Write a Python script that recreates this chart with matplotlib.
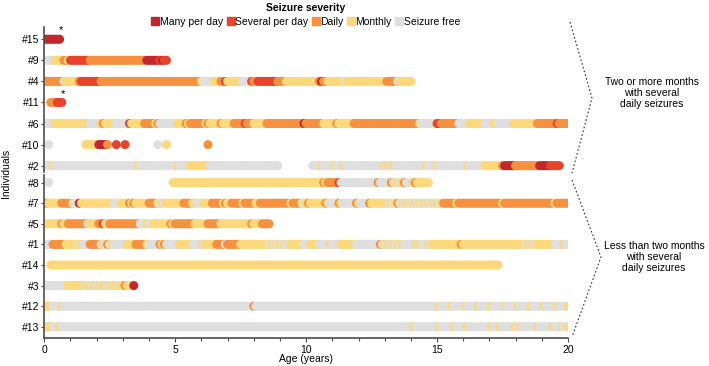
import matplotlib
matplotlib.use("Agg")
import matplotlib.pyplot as plt
from matplotlib.lines import Line2D
import numpy as np

plt.rcParams["font.family"] = ["Liberation Sans", "DejaVu Sans"]
plt.rcParams["font.size"] = 7.5

severity_codes = ["M", "S", "D", "O", "F"]
severity_labels = ["Many per day", "Several per day", "Daily", "Monthly", "Seizure free"]
severity_colors = ["#c1272d", "#e8442c", "#f6923f", "#fdd97c", "#dfdfdf"]

top_group = ["#15", "#9", "#4", "#11", "#6", "#10", "#2"]
bottom_group = ["#8", "#7", "#5", "#1", "#14", "#3", "#12", "#13"]
starred = ["#15", "#11"]

# monthly seizure severity from month 0, run-length encoded; "." = no record
p15 = [("M", 8)]
p9 = [("F", 5), ("O", 4), ("D", 2), ("O", 1), ("S", 9), ("D", 26), ("M", 6), ("S", 1),
      ("M", 1), ("S", 2)]
p4 = [("D", 9), ("F", 1), ("O", 6), ("D", 1), ("S", 9), ("D", 46), ("O", 1), ("F", 5),
      ("O", 3), ("D", 2), ("S", 1), ("O", 7), ("F", 4), ("S", 1), ("D", 2), ("S", 9),
      ("D", 4), ("O", 15), ("D", 1), ("M", 1), ("D", 2), ("O", 8), ("F", 1), ("O", 18),
      ("D", 5), ("F", 1), ("O", 6)]
p11 = [(".", 3), ("D", 3), ("S", 3)]
p6 = [("F", 5), ("O", 16), ("F", 5), ("O", 1), ("D", 1), ("O", 5), ("F", 6), ("S", 1),
      ("O", 6), ("D", 5), ("O", 1), ("D", 1), ("F", 8), ("O", 4), ("D", 1), ("O", 1),
      ("D", 7), ("O", 1), ("D", 1), ("O", 5), ("D", 1), ("O", 5), ("D", 5), ("S", 1),
      ("D", 3), ("O", 6), ("D", 17), ("M", 1), ("D", 8), ("O", 6), ("D", 1), ("O", 7),
      ("D", 30), ("O", 1), ("F", 7), ("S", 2), ("D", 8), ("F", 5), ("O", 7), ("F", 4),
      ("O", 2), ("F", 7), ("O", 11), ("D", 9), ("S", 1), ("D", 5)]
p10 = [(".", 2), ("F", 1), (".", 16), ("O", 6), ("M", 4), ("D", 1), (".", 3), ("S", 1),
       (".", 3), ("S", 1), (".", 14), ("F", 1), (".", 3), ("O", 1), (".", 18), ("D", 1)]
p2 = [("F", 4), ("O", 1), ("F", 38), ("O", 1), ("F", 17), ("O", 1), ("F", 5), ("O", 9),
      ("F", 32), (".", 15), ("F", 4), ("O", 1), ("F", 5), ("O", 1), ("F", 3), ("O", 1),
      ("F", 18), ("O", 1), ("F", 1), ("O", 1), ("F", 1), ("O", 1), ("F", 14), ("O", 1),
      ("F", 4), ("O", 1), ("F", 13), ("O", 1), ("F", 7), ("O", 8), ("D", 1), ("M", 5),
      ("D", 11), ("M", 5), ("S", 5)]
p8 = [(".", 2), ("F", 1), (".", 56), ("O", 69), ("D", 1), ("O", 1), ("D", 5), ("S", 1),
      ("F", 17), ("D", 1), ("F", 5), ("D", 1), ("O", 1), ("F", 1), ("O", 1), ("F", 1),
      ("O", 1), ("D", 1), ("F", 3), ("O", 1), ("D", 1), ("O", 6)]
p7 = [("D", 2), ("O", 6), ("D", 5), ("O", 1), ("F", 2), ("M", 1), ("O", 15), ("F", 3),
      ("O", 4), ("D", 1), ("O", 1), ("D", 1), ("O", 6), ("D", 4), ("O", 1), ("F", 1),
      ("O", 1), ("F", 1), ("O", 8), ("D", 4), ("O", 2), ("F", 3), ("O", 4), ("D", 5),
      ("O", 1), ("D", 1), ("O", 2), ("D", 5), ("O", 1), ("D", 5), ("O", 2), ("D", 14),
      ("O", 1), ("D", 4), ("O", 1), ("F", 1), ("O", 1), ("D", 1), ("O", 7), ("D", 1),
      ("O", 1), ("F", 4), ("D", 1), ("O", 1), ("F", 6), ("D", 1), ("O", 1), ("F", 4),
      ("D", 1), ("O", 7), ("O", 1), ("F", 1), ("O", 1), ("F", 1), ("O", 1), ("D", 1),
      ("F", 1), ("O", 1), ("F", 1), ("O", 1), ("F", 1), ("O", 1), ("F", 1), ("O", 1),
      ("F", 1), ("O", 1), ("F", 1), ("O", 1), ("F", 1), ("O", 1), ("F", 1), ("O", 1),
      ("F", 1), ("O", 1), ("F", 1), ("O", 1), ("D", 6), ("O", 1), ("D", 20), ("O", 1),
      ("D", 23), ("O", 1), ("D", 6)]
p5 = [("O", 8), ("D", 1), ("O", 2), ("D", 8), ("D", 1), ("F", 1), ("O", 4), ("D", 2),
      ("S", 1), ("O", 2), ("D", 14), ("F", 3), ("O", 1), ("F", 2), ("O", 8), ("D", 1),
      ("O", 1), ("D", 9), ("O", 6), ("D", 6), ("O", 14), ("D", 1), ("O", 4), ("D", 4)]
p1 = [("F", 4), ("D", 6), ("O", 6), ("F", 1), ("O", 1), ("F", 3), ("D", 5), ("F", 1),
      ("O", 1), ("F", 1), ("D", 1), ("F", 1), ("O", 1), ("F", 6), ("O", 4), ("D", 5),
      ("O", 1), ("F", 5), ("D", 1), ("O", 1), ("D", 1), ("F", 6), ("O", 6), ("F", 4),
      ("O", 1), ("F", 1), ("O", 5), ("D", 4), ("F", 1), ("D", 6), ("O", 13), ("F", 1),
      ("O", 1), ("F", 1), ("O", 1), ("F", 1), ("O", 1), ("F", 1), ("O", 1), ("F", 2),
      ("O", 6), ("F", 3), ("O", 4), ("F", 5), ("O", 1), ("F", 4), ("O", 7), ("F", 11),
      ("D", 1), ("F", 1), ("O", 1), ("F", 1), ("O", 1), ("F", 1), ("O", 1), ("F", 1),
      ("O", 1), ("F", 1), ("O", 1), ("F", 5), ("O", 1), ("F", 1), ("O", 1), ("F", 3),
      ("O", 1), ("F", 1), ("O", 13), ("D", 1), ("O", 29), ("F", 1), ("O", 1), ("F", 1),
      ("O", 1), ("F", 1), ("O", 8), ("F", 4), ("O", 1), ("F", 2)]
p14 = [(".", 3), ("O", 206)]
p3 = [("F", 11), ("O", 8), ("F", 1), ("O", 2), ("F", 1), ("O", 1), ("F", 1), ("O", 1),
      ("F", 1), ("O", 2), ("F", 1), ("O", 1), ("F", 1), ("O", 2), ("F", 1), ("O", 2),
      ("D", 1), ("O", 3), ("M", 1)]
p12 = [("O", 4), ("F", 4), ("O", 1), ("F", 87), ("D", 1), ("F", 84), ("O", 1), ("F", 5),
       ("O", 1), ("F", 5), ("O", 1), ("F", 5), ("O", 1), ("F", 5), ("O", 1), ("F", 5),
       ("O", 1), ("F", 5), ("O", 1), ("F", 5), ("O", 1), ("F", 5), ("O", 1), ("F", 5),
       ("O", 1), ("F", 4), ("O", 1)]
p13 = [("O", 4), ("F", 3), ("O", 1), ("F", 161), ("O", 1), ("F", 11), ("O", 1), ("F", 6),
       ("O", 1), ("F", 5), ("O", 1), ("F", 10), ("O", 1), ("F", 3), ("O", 1), ("F", 6),
       ("O", 1), ("F", 1), ("O", 1), ("F", 7), ("O", 1), ("F", 6), ("O", 1), ("F", 3),
       ("O", 1), ("F", 2), ("O", 1)]

records = {"#15": p15, "#9": p9, "#4": p4, "#11": p11, "#6": p6, "#10": p10, "#2": p2,
           "#8": p8, "#7": p7, "#5": p5, "#1": p1, "#14": p14, "#3": p3, "#12": p12,
           "#13": p13}
color_of = dict(zip(severity_codes, severity_colors))


def expand(runs):
    codes = np.array([c for c, n in runs for _ in range(n)])
    months = np.arange(len(codes))
    keep = codes != "."
    return months[keep] / 12, codes[keep]


W, H = 709, 366
fig = plt.figure(figsize=(W / 100, H / 100), dpi=100)
left, right = 44.3 / W, 568 / W
ax_top = fig.add_axes([left, 1 - 172 / H, right - left, 145 / H])
ax_bot = fig.add_axes([left, 1 - 338.3 / H, right - left, 163.3 / H])

spine_color = "#4d4d4d"
for ax, group, ylim in [(ax_top, top_group, (6.3, -0.58)), (ax_bot, bottom_group, (7.56, -0.37))]:
    for i, name in enumerate(group):
        age, codes = expand(records[name])
        ax.scatter(age, np.full(len(age), i), c=[color_of[c] for c in codes],
                   s=42, linewidths=0, zorder=2)
        if name in starred:
            ax.text(age.max() + 0.05, i - 0.42, "*", ha="center", va="center", fontsize=8)
    ax.set_xlim(0, 20)
    ax.set_ylim(*ylim)
    ax.set_yticks(range(len(group)))
    ax.set_yticklabels(group)
    for s in ["top", "right"]:
        ax.spines[s].set_visible(False)
    ax.spines["left"].set_color(spine_color)
    ax.spines["left"].set_linewidth(1.2)
    ax.tick_params(axis="y", length=2.5, width=0.8, color=spine_color, pad=1)

ax_top.spines["bottom"].set_visible(False)
ax_top.set_xticks([])

ax_bot.spines["bottom"].set_color(spine_color)
ax_bot.spines["bottom"].set_linewidth(1.2)
ax_bot.set_xticks([0, 5, 10, 15, 20])
ax_bot.set_xticks(np.arange(0, 21, 1), minor=True)
ax_bot.tick_params(axis="x", which="major", length=3, width=0.8, color=spine_color, pad=2)
ax_bot.tick_params(axis="x", which="minor", length=2.5, width=0.8, color=spine_color)

fig.text(306 / W, 1 - 359 / H, "Age (years)", ha="center", va="center")
fig.text(6 / W, 1 - 173 / H, "Individuals", rotation=90, ha="center", va="center")

handles = [Line2D([], [], marker="s", linestyle="none", markersize=5.4, color=c)
           for c in severity_colors]
leg = fig.legend(handles, severity_labels, ncol=5, loc="upper center",
                 bbox_to_anchor=(306 / W, 1.008), frameon=False, fontsize=7.5,
                 title="Seizure severity", title_fontproperties={"weight": "bold", "size": 7.5},
                 handlelength=0.7, handletextpad=0.1, columnspacing=0.35, borderpad=0.1)
leg._legend_box.sep = 2.5

# dotted brackets grouping the individuals
bracket_style = dict(color="#333333", linewidth=0.8, linestyle=(0, (1.5, 2)))
for pts in [[(570, 22), (592, 98), (572, 173)], [(572, 180), (601, 257), (572, 337)]]:
    xs = [p[0] / W for p in pts]
    ys = [1 - p[1] / H for p in pts]
    fig.add_artist(Line2D(xs, ys, transform=fig.transFigure, **bracket_style))

fig.text(652 / W, 1 - 93 / H, "Two or more months\nwith several\ndaily seizures",
         ha="center", va="center", linespacing=1.15)
fig.text(654 / W, 1 - 257 / H, "Less than two months\nwith several\ndaily seizures",
         ha="center", va="center", linespacing=1.15)

fig.savefig("out.png", dpi=100, facecolor="white")
